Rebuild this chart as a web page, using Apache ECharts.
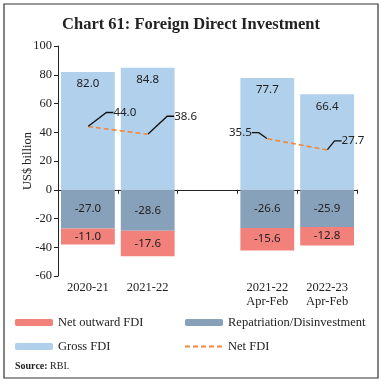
<!DOCTYPE html>
<html><head><meta charset="utf-8">
<script src="https://cdn.jsdelivr.net/npm/echarts@6/dist/echarts.min.js"></script>
<style>html,body{margin:0;padding:0;background:#fff}#c{width:382px;height:384px}</style>
</head><body><div id="c"></div>
<script>
const categories = ['2020-21', '2021-22', '', '2021-22\nApr-Feb', '2022-23\nApr-Feb'];
const grossFDI = [82.0, 84.8, null, 77.7, 66.4];
const repatriation = [-27.0, -28.6, null, -26.6, -25.9];
const netOutward = [-11.0, -17.6, null, -15.6, -12.8];
const netFDI = [44.0, 38.6, null, 35.5, 27.7];
const yTicks = {min: -60, max: 100, interval: 20};

const serif = 'Liberation Serif';
const sans = 'Noto Sans';
const labelSide = ['right', 'right', 'right', 'left', 'right'];
const labelShift = [[20, -14], [21, -18], [0, 0], [-10, -6], [9, -9]];

const chart = echarts.init(document.getElementById('c'), null, {renderer: 'canvas'});
const barLabel = (pos, dist) => ({show: true, position: pos, distance: dist, color: '#222', fontFamily: sans, fontSize: 11.5, formatter: p => p.value.toFixed(1)});
const legendText = {fontFamily: serif, fontSize: 12.5, color: '#222'};
chart.setOption({
  animation: false,
  title: {text: 'Chart 61: Foreign Direct Investment', left: 'center', top: 11,
    textStyle: {fontFamily: serif, fontWeight: 'bold', fontSize: 16.5, color: '#222'}},
  graphic: [
    {type: 'rect', shape: {x: 4, y: 4, width: 374, height: 374}, style: {fill: 'none', stroke: '#333', lineWidth: 1.2}},
    {type: 'text', left: 15, top: 361, style: {text: '{b|Source:} RBI.', rich: {b: {fontWeight: 'bold', fontFamily: serif, fontSize: 10}}, fontFamily: serif, fontSize: 10, fill: '#222'}}
  ],
  legend: [
    {data: ['Net outward FDI', 'Gross FDI'], orient: 'vertical', left: 15, top: 316, padding: 0, itemWidth: 38, itemHeight: 7, itemGap: 11, textStyle: legendText},
    {data: ['Repatriation/Disinvestment', 'Net FDI'], orient: 'vertical', left: 184, top: 316, padding: 0, itemWidth: 38, itemHeight: 7, itemGap: 11, textStyle: legendText}
  ],
  grid: {left: 58, right: 25, top: 46, bottom: 108},
  xAxis: [
    {type: 'category', data: categories, axisLine: {onZero: true, lineStyle: {color: '#222', width: 1}},
      axisTick: {show: true, length: 4, lineStyle: {color: '#222'}}, axisLabel: {show: false}},
    {type: 'category', data: categories, position: 'bottom', axisLine: {show: false}, axisTick: {show: false},
      axisLabel: {margin: 5, fontFamily: serif, fontSize: 12.5, color: '#222', lineHeight: 14, interval: 0}}
  ],
  yAxis: {type: 'value', min: yTicks.min, max: yTicks.max, interval: yTicks.interval,
    name: 'US$ billion', nameLocation: 'middle', nameGap: 24, nameRotate: 90, nameMoveOverlap: false,
    nameTextStyle: {fontFamily: serif, fontSize: 12.5, color: '#222'},
    axisLine: {show: true, lineStyle: {color: '#222'}}, axisTick: {show: true, length: 4, lineStyle: {color: '#222'}},
    splitLine: {show: false}, axisLabel: {fontFamily: serif, fontSize: 12.5, color: '#222', margin: 6}},
  series: [
    {name: 'Gross FDI', type: 'bar', stack: 'fdi', data: grossFDI, barCategoryGap: '10%',
      itemStyle: {color: '#B0D0EC'}, label: barLabel('insideTop', 6)},
    {name: 'Repatriation/Disinvestment', type: 'bar', stack: 'fdi', data: repatriation,
      itemStyle: {color: '#88A1BA'}, label: barLabel('inside', 5)},
    {name: 'Net outward FDI', type: 'bar', stack: 'fdi', data: netOutward,
      itemStyle: {color: '#F2807B'}, label: barLabel('inside', 5)},
    {name: 'Net FDI', type: 'line', data: netFDI.map((v, i) => ({value: v, label: {position: labelSide[i]}})),
      symbol: 'circle', symbolSize: 1, showSymbol: true, connectNulls: false,
      itemStyle: {color: 'rgba(0,0,0,0)'},
      lineStyle: {color: '#F0883E', width: 1.6, type: [5, 3]},
      label: {show: true, color: '#222', fontFamily: sans, fontSize: 11.5, formatter: p => p.value.toFixed(1)},
      labelLine: {show: true, lineStyle: {color: '#111', width: 1.3}, length2: 7},
      labelLayout: p => ({dx: labelShift[p.dataIndex][0], dy: labelShift[p.dataIndex][1]}),
      z: 5}
  ]
});
</script></body></html>
